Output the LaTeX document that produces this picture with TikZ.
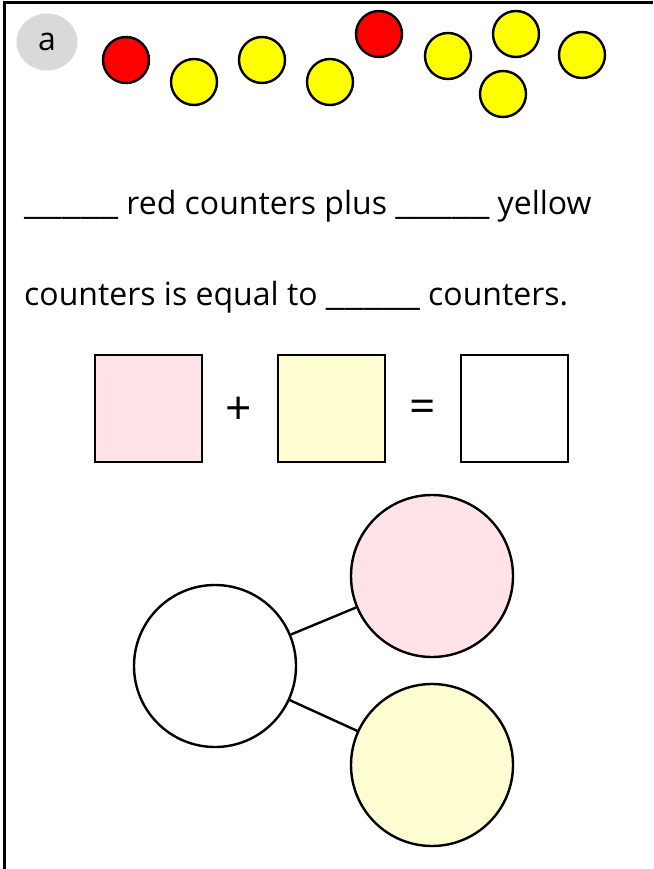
\documentclass[tikz,border=0pt]{standalone}
\usepackage{fontspec}
\setmainfont{Open Sans}
\usetikzlibrary{shapes.geometric}
\definecolor{counterred}{HTML}{FF0000}
\definecolor{counteryellow}{HTML}{FFFF00}
\definecolor{partpink}{HTML}{FFE3E6}
\definecolor{partyellow}{HTML}{FFFED2}
\definecolor{badgegray}{HTML}{D9D9D9}
\newcommand{\blank}{\scalebox{1.31}[1]{\_\_\_\_\_}}
\begin{document}
\begin{tikzpicture}[x=1pt,y=-1pt,
  counter/.style={circle,draw,line width=2.4pt,minimum size=46pt,inner sep=0pt},
  answerbox/.style={draw,line width=2.4pt,minimum size=107pt,inner sep=0pt},
  part/.style={circle,draw,line width=2.4pt,minimum size=162pt,inner sep=0pt},
  sentence/.style={anchor=base west,inner sep=0pt,font=\fontsize{32}{38}\selectfont}]
\useasboundingbox (0,0) rectangle (653,869);
% frame
\draw[line width=3pt] (4,869) -- (4,3) -- (653,3);
% label
\node[ellipse,fill=badgegray,minimum width=61pt,minimum height=57pt,inner sep=0pt,
  font=\fontsize{32}{36}\selectfont] (badge) at (47,42) {a};
% counters
\node[counter,fill=counterred] (r1) at (126,60) {};
\node[counter,fill=counteryellow] (y1) at (194,82) {};
\node[counter,fill=counteryellow] (y2) at (262,60) {};
\node[counter,fill=counteryellow] (y3) at (330,82) {};
\node[counter,fill=counterred] (r2) at (379,34) {};
\node[counter,fill=counteryellow] (y4) at (448,56) {};
\node[counter,fill=counteryellow] (y5) at (516,34) {};
\node[counter,fill=counteryellow] (y6) at (503,94) {};
\node[counter,fill=counteryellow] (y7) at (582,55) {};
% sentence
\node[sentence] (line1) at (24,214) {\blank{} red counters plus \blank{} yellow};
\node[sentence] (line2) at (24,305) {counters is equal to \blank{} counters.};
% number sentence
\node[answerbox,fill=partpink] (boxa) at (148.5,408.5) {};
\node[answerbox,fill=partyellow] (boxb) at (331.5,408.5) {};
\node[answerbox,fill=white] (boxc) at (514.5,408.5) {};
\node[font=\fontsize{46}{50}\selectfont] (plus) at (239,411) {+};
\node[font=\fontsize{46}{50}\selectfont] (equals) at (423,411) {=};
% part-whole model
\node[part,fill=white] (whole) at (215,666) {};
\node[part,fill=partpink] (parta) at (432,576) {};
\node[part,fill=partyellow] (partb) at (432,765) {};
\draw[line width=2.4pt] (whole) -- (parta);
\draw[line width=2.4pt] (whole) -- (partb);
\end{tikzpicture}
\end{document}
